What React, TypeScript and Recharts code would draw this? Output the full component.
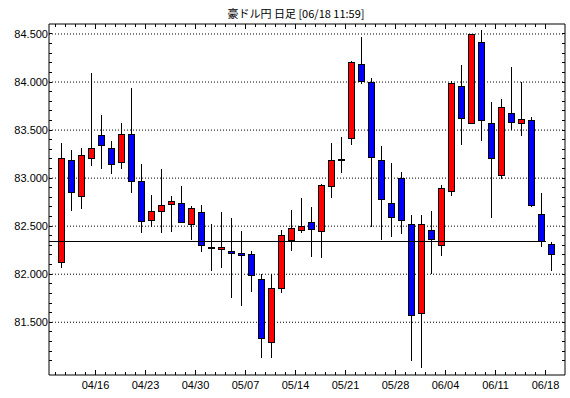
import React from "react";
import { Bar, CartesianGrid, ComposedChart, ReferenceLine, XAxis, YAxis } from "recharts";

const DATES = [
  "04/10", "04/11", "04/12", "04/13",
  "04/16", "04/17", "04/18", "04/19", "04/20",
  "04/23", "04/24", "04/25", "04/26", "04/27",
  "04/30", "05/01", "05/02", "05/03", "05/04",
  "05/07", "05/08", "05/09", "05/10", "05/11",
  "05/14", "05/15", "05/16", "05/17", "05/18",
  "05/21", "05/22", "05/23", "05/24", "05/25",
  "05/28", "05/29", "05/30", "05/31", "06/01",
  "06/04", "06/05", "06/06", "06/07", "06/08",
  "06/11", "06/12", "06/13", "06/14", "06/15",
  "06/18",
];

const OPEN = [
  82.12, 83.18, 82.81, 83.2,
  83.44, 83.31, 83.16, 83.45, 82.96,
  82.56, 82.65, 82.73, 82.74, 82.52,
  82.64, 82.27, 82.26, 82.24, 82.22,
  82.21, 81.94, 81.29, 81.85, 82.35,
  82.45, 82.54, 82.44, 82.91, 83.19,
  83.41, 84.18, 84.0, 83.18, 82.74,
  83.0, 82.52, 81.59, 82.46, 82.3,
  82.86, 83.95, 83.57, 84.41, 83.57,
  83.03, 83.67, 83.57, 83.6, 82.62,
  82.31,
];

const CLOSE = [
  83.2, 82.85, 83.24, 83.31,
  83.34, 83.14, 83.45, 82.97, 82.55,
  82.65, 82.72, 82.76, 82.54, 82.68,
  82.3, 82.27, 82.28, 82.22, 82.19,
  81.99, 81.33, 81.85, 82.4, 82.48,
  82.5, 82.47, 82.92, 83.18, 83.19,
  84.2, 84.01, 83.21, 82.78, 82.59,
  82.56, 81.57, 82.52, 82.36, 82.89,
  83.98, 83.62, 84.49, 83.6, 83.2,
  83.73, 83.58, 83.61, 82.71, 82.344,
  82.2,
];

const HIGH = [
  83.37, 83.29, 83.31, 84.09,
  83.66, 83.39, 83.57, 83.94, 83.15,
  82.82, 83.09, 82.81, 82.92, 82.71,
  82.72, 82.52, 82.65, 82.58, 82.45,
  82.24, 82.0, 82.0, 82.46, 82.67,
  82.79, 82.7, 82.94, 83.37, 83.43,
  84.22, 84.47, 84.04, 83.33, 83.16,
  83.06, 82.62, 82.62, 82.66, 82.93,
  84.01, 84.18, 84.5, 84.54, 83.79,
  83.82, 84.16, 84.0, 83.64, 82.84,
  82.34,
];

const LOW = [
  82.06, 82.66, 82.68, 83.13,
  83.09, 83.04, 83.09, 82.85, 82.43,
  82.49, 82.43, 82.44, 82.53, 82.36,
  82.23, 82.03, 82.06, 81.75, 81.67,
  81.82, 81.13, 81.13, 81.8, 82.24,
  82.43, 82.18, 82.17, 82.79, 83.05,
  83.34, 83.98, 82.49, 82.36, 82.39,
  82.42, 81.1, 81.02, 82.0, 82.19,
  82.81, 83.34, 83.56, 83.39, 82.58,
  82.99, 83.5, 83.44, 82.7, 82.28,
  82.03,
];

const X_LABELS = ["04/16", "04/23", "04/30", "05/07", "05/14", "05/21", "05/28", "06/04", "06/11", "06/18"];
const Y_LABELS = [81.5, 82, 82.5, 83, 83.5, 84, 84.5];
const Y_TICKS = [
  81.1, 81.2, 81.3, 81.4, 81.5, 81.6, 81.7, 81.8, 81.9, 82.0,
  82.1, 82.2, 82.3, 82.4, 82.5, 82.6, 82.7, 82.8, 82.9, 83.0,
  83.1, 83.2, 83.3, 83.4, 83.5, 83.6, 83.7, 83.8, 83.9, 84.0,
  84.1, 84.2, 84.3, 84.4, 84.5,
];
const TITLE = "豪ドル円 日足 [06/18 11:59]";

const data = DATES.map((date, i) => ({
  date,
  open: OPEN[i],
  close: CLOSE[i],
  high: HIGH[i],
  low: LOW[i],
}));

const W = 570;
const H = 398;
const PLOT_TOP = 24;
const PLOT_RIGHT = 565;
const FONT = "'Liberation Sans', Arial, sans-serif";

function Candle(props: any) {
  const { x, y, width, height, payload } = props;
  const { open, close, high, low } = payload;
  const cx = x + width / 2;
  const top = Math.min(y, y + height);
  const ppu = Math.abs(height) / (high - low);
  const yOf = (v: number) => top + (high - v) * ppu;
  const bodyTop = yOf(Math.max(open, close));
  const bodyH = Math.abs(open - close) * ppu;
  return (
    <g shapeRendering="crispEdges">
      <line x1={cx} x2={cx} y1={yOf(high)} y2={yOf(low)} stroke="#000" strokeWidth={1} />
      {open === close ? (
        <line x1={cx - 3.5} x2={cx + 3.5} y1={yOf(open)} y2={yOf(open)} stroke="#000" strokeWidth={2} />
      ) : (
        <rect
          x={cx - 3}
          y={bodyTop}
          width={6}
          height={Math.max(bodyH, 1)}
          fill={close > open ? "#ff0000" : "#0000ff"}
          stroke="#000"
          strokeWidth={1}
        />
      )}
    </g>
  );
}

function XTick(props: any) {
  const { x, y, payload } = props;
  const bx = x - 5;
  const major = X_LABELS.includes(payload.value);
  const len = major ? 5 : 3;
  return (
    <g shapeRendering="crispEdges">
      <line x1={bx} x2={bx} y1={y} y2={y - len} stroke="#000" />
      <line x1={bx} x2={bx} y1={PLOT_TOP} y2={PLOT_TOP + len} stroke="#000" />
      {major && (
        <text x={bx} y={y + 14} textAnchor="middle" fontSize={11} fontFamily={FONT} fill="#000">
          {payload.value}
        </text>
      )}
    </g>
  );
}

function YTick(props: any) {
  const { x, y, payload } = props;
  const major = Y_LABELS.some((v) => Math.abs(v - payload.value) < 1e-6);
  return (
    <g shapeRendering="crispEdges">
      <line x1={x} x2={x + 3} y1={y} y2={y} stroke="#000" />
      <line x1={PLOT_RIGHT - 3} x2={PLOT_RIGHT} y1={y} y2={y} stroke="#000" />
      {major && (
        <text x={x - 1} y={y + 4} textAnchor="end" fontSize={11} fontFamily={FONT} fill="#000">
          {payload.value.toFixed(3)}
        </text>
      )}
    </g>
  );
}

const PrevCloseLine = (props: any) => {
  const { x1, x2, y1, y2 } = props;
  return <line x1={x1} x2={x2 - 19.5} y1={y1} y2={y2} stroke="#000" strokeWidth={1} shapeRendering="crispEdges" />;
};

export default function App() {
  const domain: [number, number] = [80.951, 84.604];
  return (
    <div style={{ position: "absolute", left: 0, top: 0, width: W, height: H, background: "#fff" }}>
      <svg width={W} height={20} style={{ position: "absolute", left: 0, top: 0 }}>
        <text x={296} y={18} textAnchor="middle" fontSize={11} fontFamily="'Noto Sans CJK JP', sans-serif" fill="#000">
          {TITLE}
        </text>
      </svg>
      <ComposedChart width={W} height={H} data={data} margin={{ top: 0, right: 0, bottom: 0, left: 0 }}>
        <CartesianGrid vertical={false} horizontalValues={Y_LABELS} stroke="#000" strokeDasharray="1 2" />
        <XAxis
          dataKey="date"
          type="category"
          height={23}
          padding={{ left: 6.5, right: 9.5 }}
          interval={0}
          tickSize={0}
          tickMargin={0}
          tick={<XTick />}
          tickLine={false}
          axisLine={{ stroke: "#000" }}
        />
        <XAxis xAxisId="top" dataKey="date" orientation="top" height={PLOT_TOP} tick={false} tickLine={false} axisLine={{ stroke: "#000" }} />
        <YAxis
          type="number"
          domain={domain}
          allowDataOverflow
          ticks={Y_TICKS}
          interval={0}
          width={49}
          tickSize={0}
          tickMargin={0}
          tick={<YTick />}
          tickLine={false}
          axisLine={{ stroke: "#000" }}
        />
        <YAxis yAxisId="r" orientation="right" type="number" domain={domain} width={5} tick={false} tickLine={false} axisLine={{ stroke: "#000" }} />
        <Bar dataKey={(d: any) => [d.low, d.high]} barSize={7} shape={<Candle />} isAnimationActive={false} />
        <ReferenceLine y={CLOSE[48]} stroke="#000" shape={<PrevCloseLine />} />
      </ComposedChart>
    </div>
  );
}
